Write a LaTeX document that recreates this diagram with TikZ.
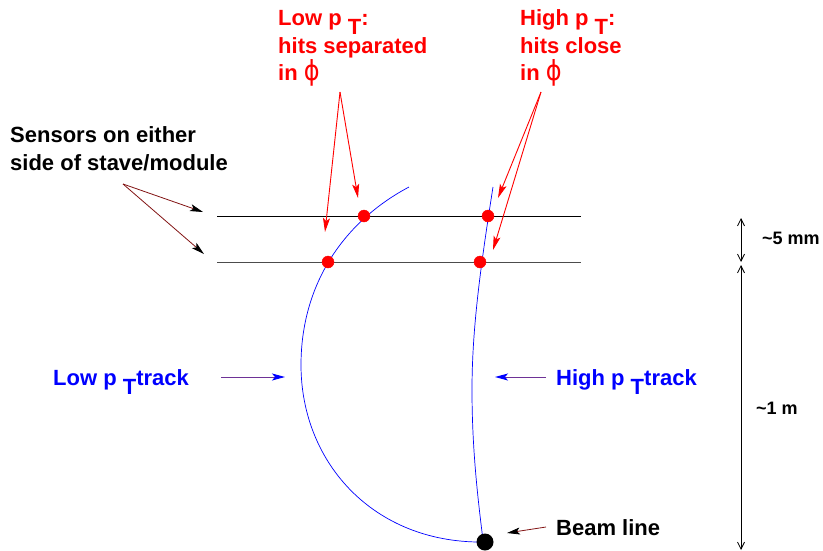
\documentclass[tikz,border=0pt]{standalone}
\usepackage{fontspec}
\setmainfont{Liberation Sans}
\newfontfamily\symfont{DejaVu Sans}
\usetikzlibrary{arrows.meta}
\definecolor{pur}{RGB}{110,50,150}
\definecolor{drk}{RGB}{130,20,20}
\newcommand{\ptsub}{\raisebox{-9pt}{T}}
\newcommand{\phisym}{{\symfont\mdseries\fontsize{24}{27}\selectfont\scalebox{1}[1.15]{ϕ}}}
\tikzset{
  lbl/.style={font=\fontsize{22}{27}\selectfont\bfseries, inner sep=0pt, anchor=base west},
  dimlbl/.style={font=\fontsize{18}{22}\selectfont\bfseries, inner sep=0pt, anchor=base west},
  redarr/.style={red, line width=0.9pt, -{Stealth[length=14pt,width=7pt,inset=3pt]}},
  blkarr/.style={drk, line width=0.8pt, -{Stealth[length=13pt,width=7pt,inset=3pt,black]}},
  purarr/.style={pur, line width=1pt, -{Stealth[length=13pt,width=7pt,inset=3pt,blue]}},
  dimarr/.style={black, line width=0.8pt, {Straight Barb[length=7pt,width=7pt]}-{Straight Barb[length=7pt,width=7pt]}},
  hit/.style={circle, fill=red, draw=red, inner sep=0pt, minimum size=12pt},
  track/.style={blue, line width=0.7pt},
}
\begin{document}
\begin{tikzpicture}[x=1pt,y=-1pt]
\useasboundingbox (0,0) rectangle (823,550);
% sensor planes
\draw[black, line width=0.8pt] (217,216) -- (581,216);
\draw[black!70, line width=0.8pt] (217,262) -- (581,262);
% tracks
\draw[track] (409,187) .. controls (343,222) and (301,285) .. (301,365)
                       .. controls (301,460) and (370,540) .. (477,542);
\draw[track] (493,187) .. controls (480,270) and (472,330) .. (472,390)
                       .. controls (472,450) and (478,500) .. (483,540);
% hits
\node[hit] (h1) at (364,216) {};
\node[hit] (h2) at (328,262) {};
\node[hit] (h3) at (488,216) {};
\node[hit] (h4) at (480,262) {};
% beam
\node[circle, fill=black, inner sep=0pt, minimum size=17pt] (beam) at (485,542) {};
% red labels
\node[lbl, red] (lo1) at (278,25) {Low p \ptsub:};
\node[lbl, red] (lo2) at (278,53) {hits separated};
\node[lbl, red] (lo3) at (278,80) {in \phisym};
\node[lbl, red] (hi1) at (520,25) {High p \ptsub:};
\node[lbl, red] (hi2) at (520,53) {hits close};
\node[lbl, red] (hi3) at (520,80) {in \phisym};
\coordinate (loS) at (340,92);
\coordinate (hiS) at (541,92);
\coordinate (t1) at (325,232);
\coordinate (t2) at (358,198);
\coordinate (t3) at (498,198);
\coordinate (t4) at (493,250);
\draw[redarr] (loS) -- (t1);
\draw[redarr] (loS) -- (t2);
\draw[redarr] (hiS) -- (t3);
\draw[redarr] (hiS) -- (t4);
% sensors label
\node[lbl] (s1) at (10,142) {Sensors on either};
\node[lbl] (s2) at (10,170) {side of stave/module};
\coordinate (sS) at (123,184);
\coordinate (sA) at (203,212);
\coordinate (sB) at (204,254);
\draw[blkarr] (sS) -- (sA);
\draw[blkarr] (sS) -- (sB);
% track labels
\node[lbl, blue] (lt) at (53,385) {Low p \ptsub track};
\node[lbl, blue] (ht) at (556,385) {High p \ptsub track};
\coordinate (ltS) at (221,377);
\coordinate (ltE) at (285,377);
\coordinate (htS) at (546,377);
\coordinate (htE) at (495,377);
\draw[purarr] (ltS) -- (ltE);
\draw[purarr] (htS) -- (htE);
% beam line label
\node[lbl] (bl) at (556,535) {Beam line};
\coordinate (bS) at (546,527);
\coordinate (bE) at (507,533);
\draw[blkarr] (bS) -- (bE);
% dimensions
\coordinate (d0) at (741,218);
\coordinate (d1) at (741,262);
\coordinate (d2) at (741,265);
\coordinate (d3) at (741,550);
\draw[dimarr] (d0) -- (d1);
\draw[dimarr] (d2) -- (d3);
\node[dimlbl] (mm) at (762,244) {\textasciitilde 5 mm};
\node[dimlbl] (m) at (756,414) {\textasciitilde 1 m};
\end{tikzpicture}
\end{document}
